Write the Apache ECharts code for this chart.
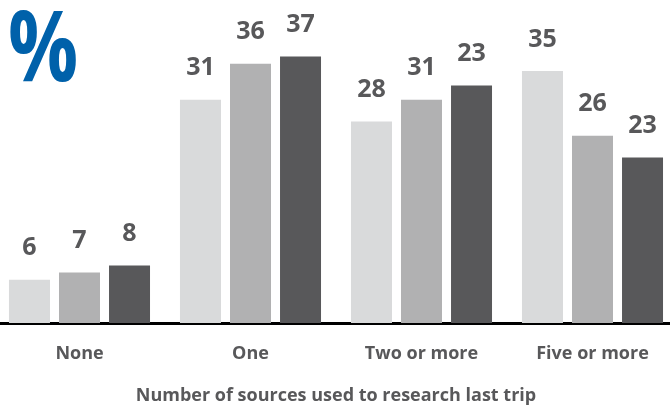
<!DOCTYPE html>
<html>
<head>
<meta charset="utf-8">
<script src="https://cdn.jsdelivr.net/npm/echarts@6/dist/echarts.min.js"></script>
<style>
    html, body { margin: 0; padding: 0; background: #fff; overflow: hidden; }
    /* the plot runs a little past both edges of the picture, so the canvas is wider and shifted left */
    #chart { width: 684px; height: 410px; margin-left: -6px; }
</style>
</head>
<body>
<div id="chart"></div>
<script>
    // categories along x
    var categories = ['None', 'One', 'Two or more', 'Five or more'];
    // bar heights
    var light = [6, 31, 28, 35];
    var mid = [7, 36, 31, 26];
    var dark = [8, 37, 33, 23];
    // numbers printed above the dark bars (the source prints 23 on the 33-high bar)
    var darkLabels = ['8', '37', '23', '23'];

    var font = '"Open Sans", "Noto Sans", sans-serif';

    function bar(name, data, color, labels) {
        return {
            name: name,
            type: 'bar',
            data: data,
            barWidth: 41,
            barGap: '22%',
            itemStyle: { color: color },
            label: {
                show: true,
                position: 'top',
                distance: 19,
                color: '#58585a',
                fontFamily: font,
                fontWeight: 'bold',
                fontSize: 25,
                formatter: function (p) {
                    return labels ? labels[p.dataIndex] : p.value;
                }
            }
        };
    }

    var myChart = echarts.init(document.getElementById('chart'));
    var option = {
        animation: false,
        grid: { left: 0, right: 0, top: 35, bottom: 82, containLabel: false },
        graphic: [{
            type: 'text',
            x: 14,
            y: 4,
            scaleX: 0.95,
            scaleY: 1.2,
            style: { text: '%', fill: '#0061aa', font: 'bold 82px ' + font }
        }],
        xAxis: {
            type: 'category',
            data: categories,
            name: 'Number of sources used to research last trip',
            nameLocation: 'middle',
            nameGap: 64,
            nameTextStyle: { color: '#58585a', fontFamily: font, fontWeight: 'bold', fontSize: 18 },
            axisLine: { lineStyle: { color: '#000', width: 3 } },
            axisTick: { show: false },
            axisLabel: { color: '#58585a', fontFamily: font, fontWeight: 'bold', fontSize: 18, margin: 22 }
        },
        yAxis: {
            type: 'value',
            min: 0,
            max: 40,
            show: false
        },
        series: [
            bar('a', light, '#d9dadb'),
            bar('b', mid, '#b1b1b2'),
            bar('c', dark, '#58585a', darkLabels)
        ]
    };
    myChart.setOption(option);
</script>
</body>
</html>
